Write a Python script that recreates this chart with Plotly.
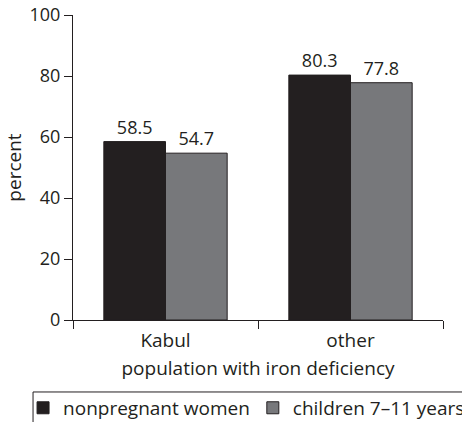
import plotly.graph_objects as go

categories = ["Kabul", "other"]
women = [58.5, 80.3]
children = [54.7, 77.8]
series_names = ["nonpregnant women", "children 7–11 years"]
y_ticks = [0, 20, 40, 60, 80, 100]

FONT = "Open Sans"
INK = "#231f20"
fig = go.Figure()
fig.add_trace(go.Bar(x=categories, y=women, name=series_names[0], legend="legend",
                     marker=dict(color=INK, line=dict(color=INK, width=1)),
                     text=[f"{v:.1f}" for v in women], textposition="outside",
                     textfont=dict(size=18, color=INK), cliponaxis=False))
fig.add_trace(go.Bar(x=categories, y=children, name=series_names[1], legend="legend2",
                     marker=dict(color="#77787b", line=dict(color=INK, width=1)),
                     text=[f"{v:.1f}" for v in children], textposition="outside",
                     textfont=dict(size=18, color=INK), cliponaxis=False))

# legend frame (runs past the right edge, as in the reference)
fig.add_shape(type="rect", xref="paper", yref="paper",
              x0=-0.108, x1=1.2, y0=-0.236, y1=-0.40,
              line=dict(color=INK, width=1), fillcolor="rgba(0,0,0,0)", layer="above")

fig.update_layout(
    width=462, height=422,
    margin=dict(l=73, r=19, t=15, b=102, autoexpand=False),
    paper_bgcolor="white", plot_bgcolor="white",
    font=dict(family=FONT, size=18, color=INK),
    barmode="group", bargap=1/3, bargroupgap=0,
    showlegend=True,
    legend=dict(orientation="h", x=-0.135, xanchor="left", y=-0.226, yanchor="top",
                borderwidth=0, font=dict(size=19), bgcolor="rgba(0,0,0,0)"),
    legend2=dict(orientation="h", x=0.486, xanchor="left", y=-0.226, yanchor="top",
                 borderwidth=0, font=dict(size=19), bgcolor="rgba(0,0,0,0)"),
    xaxis=dict(showline=True, linecolor=INK, linewidth=1,
               ticks="outside", tickson="boundaries", ticklen=8, tickcolor=INK,
               ticklabelstandoff=3,
               title=dict(text="population with iron deficiency", standoff=9,
                          font=dict(size=19)),
               tickfont=dict(size=19)),
    yaxis=dict(range=[0, 100], tickvals=y_ticks, showline=True, linecolor=INK,
               linewidth=1, ticks="outside", ticklen=8, tickcolor=INK,
               showgrid=False, zeroline=False, ticklabelstandoff=0,
               ticklabeloverflow="allow",
               title=dict(text="percent", standoff=2, font=dict(size=19)),
               tickfont=dict(size=18)),
)

# remove the browser's default 8px body margin so the figure sits at the page origin
fig.write_html("out.html", config={"displayModeBar": False},
               post_script="document.body.style.margin='0';")
